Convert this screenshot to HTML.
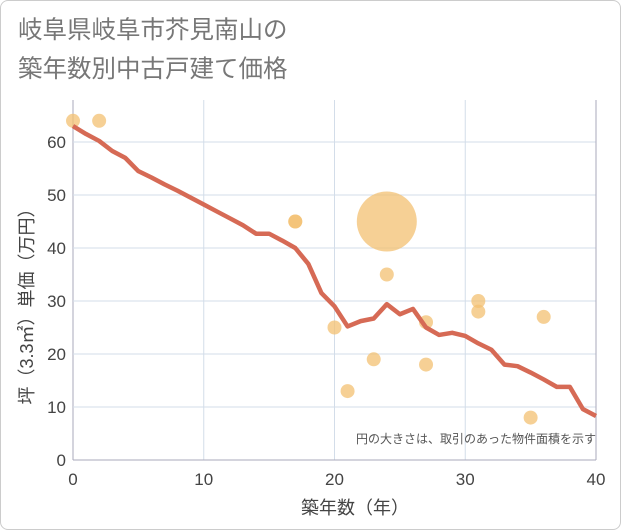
<!DOCTYPE html>
<html><head><meta charset="utf-8">
<style>
body{margin:0;background:#fff;}
.card{position:absolute;left:0;top:0;width:619px;height:528px;border:1px solid #ccc;border-radius:8px;background:#fff;}
text{font-family:"Liberation Sans","Noto Sans CJK JP",sans-serif;}
</style></head><body>
<div class="card"></div>
<svg id="c" width="621" height="530" style="position:absolute;left:0;top:0">
<text x="18" y="38" font-size="24.5" fill="#777">岐阜県岐阜市芥見南山の</text>
<text x="18" y="77" font-size="24.5" fill="#777">築年数別中古戸建て価格</text>
<g id="grid"></g><g id="marks"></g>
<text x="596" y="443" font-size="12" fill="#555" text-anchor="end">円の大きさは、取引のあった物件面積を示す</text>
<text x="355" y="514" font-size="18" fill="#444" text-anchor="middle">築年数（年）</text>
<text transform="translate(33,302) rotate(-90)" font-size="18" fill="#444" text-anchor="middle">坪（3.3㎡）単価（万円）</text>
</svg>
<script>
const xTicks=[0,10,20,30,40];
const yTicks=[0,10,20,30,40,50,60];
const lineX=[0,1,2,3,4,5,6,7,8,9,10,11,12,13,14,15,16,17,18,19,20,21,22,23,24,25,26,27,28,29,30,31,32,33,34,35,36,37,38,39,40];
const lineY=[63,61.5,60.2,58.3,57,54.5,53.3,52,50.8,49.5,48.2,46.9,45.6,44.3,42.7,42.7,41.4,40,37,31.5,29,25.2,26.2,26.7,29.4,27.5,28.5,25,23.6,24,23.4,22,20.8,18,17.7,16.5,15.2,13.8,13.8,9.6,8.3];
const ptX=[0,2,17,17,24,24,20,21,23,27,27,31,31,36,35];
const ptY=[64,64,45,45,45,35,25,13,19,26,18,30,28,27,8];
const ptR=[7,7,7,7,30,7,7,7,7,7,7,7,7,7,7];
const sx=v=>73+v*13.075, sy=v=>460-v*5.3;
const NS="http://www.w3.org/2000/svg";
const g=document.getElementById('grid'), m=document.getElementById('marks');
function mk(p,tag,a){const e=document.createElementNS(NS,tag);for(const k in a)e.setAttribute(k,a[k]);p.appendChild(e);return e;}
xTicks.forEach(t=>{
 const l=mk(g,'line',{x1:sx(t),x2:sx(t),y1:100,y2:460,stroke:t==0?'#aab':'#d3dde9','stroke-width':1});
 
 
 const tx=mk(g,'text',{x:sx(t),y:485,'font-size':17,fill:'#444','text-anchor':'middle'});tx.textContent=t;
 
 
});
yTicks.forEach(t=>{
 const l=mk(g,'line',{x1:73,x2:596,y1:sy(t),y2:sy(t),stroke:t==0?'#aab':'#d3dde9','stroke-width':1});
 
 
 const tx=mk(g,'text',{x:66,y:sy(t)+6,'font-size':17,fill:'#444','text-anchor':'end'});tx.textContent=t;
 
 
});
const rb=mk(g,'line',{x1:596,x2:596,y1:100,y2:460,stroke:'#aab'});


ptX.forEach((x,i)=>{
 const c=mk(m,'circle',{cx:sx(x),cy:sy(ptY[i]),r:ptR[i],fill:'#f3c072','fill-opacity':0.75});
 
 
});
const pl=mk(m,'polyline',{points:lineX.map((x,i)=>sx(x)+','+sy(lineY[i])).join(' '),fill:'none',stroke:'#d66a55','stroke-width':4.5,'stroke-linejoin':'round'});


</script>
</body></html>
